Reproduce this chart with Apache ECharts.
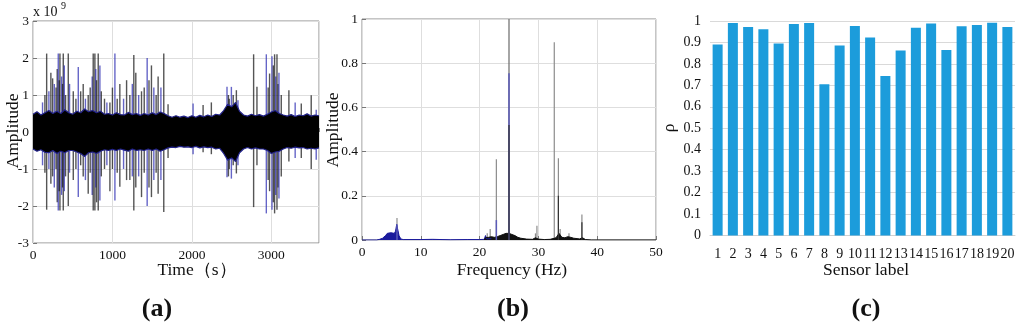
<!DOCTYPE html>
<html>
<head>
<meta charset="utf-8">
<script src="https://cdn.jsdelivr.net/npm/echarts@6/dist/echarts.min.js"></script>
<style>html,body{margin:0;padding:0;background:#fff}#c{width:1024px;height:326px}</style>
</head>
<body>
<div id="c"></div>
<script>
// ---------- Panel (a): time signal (units of 1e9) ----------
const bandTime = [0,50,100,150,200,250,300,350,400,450,500,550,600,650,700,750,800,850,900,950,1000,1050,1100,1150,1200,1250,1300,1350,1400,1450,1500,1550,1600,1650,1700,1750,1800,1850,1900,1950,2000,2050,2100,2150,2200,2250,2300,2350,2400,2450,2500,2550,2600,2650,2700,2750,2800,2850,2900,2950,3000,3050,3100,3150,3200,3250,3300,3350,3400,3450,3500,3550,3600];
const bandUpper = [0.48,0.55,0.46,0.52,0.58,0.5,0.56,0.5,0.6,0.52,0.48,0.56,0.52,0.62,0.55,0.58,0.52,0.56,0.48,0.5,0.46,0.52,0.47,0.46,0.53,0.47,0.5,0.45,0.5,0.46,0.52,0.47,0.54,0.5,0.44,0.4,0.44,0.4,0.43,0.39,0.44,0.4,0.45,0.41,0.46,0.42,0.48,0.46,0.58,0.75,0.68,0.8,0.56,0.46,0.43,0.48,0.44,0.47,0.43,0.48,0.54,0.58,0.5,0.46,0.43,0.47,0.42,0.46,0.44,0.49,0.43,0.46,0.44];
const bandLower = [-0.46,-0.52,-0.48,-0.55,-0.56,-0.5,-0.58,-0.52,-0.56,-0.5,-0.5,-0.54,-0.58,-0.66,-0.56,-0.54,-0.58,-0.52,-0.48,-0.5,-0.47,-0.5,-0.46,-0.49,-0.52,-0.46,-0.5,-0.48,-0.5,-0.46,-0.5,-0.46,-0.52,-0.48,-0.43,-0.41,-0.42,-0.39,-0.41,-0.4,-0.42,-0.39,-0.43,-0.4,-0.42,-0.41,-0.46,-0.44,-0.58,-0.76,-0.7,-0.8,-0.56,-0.46,-0.42,-0.46,-0.43,-0.46,-0.46,-0.5,-0.58,-0.54,-0.52,-0.46,-0.42,-0.44,-0.41,-0.43,-0.42,-0.46,-0.44,-0.46,-0.43];
const spikeTime = [120,150,172,200,225,247,268,290,305,318,330,339,360,372,381,394,410,444,460,507,540,570,600,632,660,695,720,745,758,779,790,800,821,842,860,900,930,968,1000,1031,1060,1093,1140,1178,1219,1250,1269,1294,1330,1366,1400,1437,1460,1491,1521,1550,1575,1610,1646,1700,2015,2141,2245,2442,2460,2470,2497,2520,2560,2580,2777,2819,2937,2960,2978,3008,3025,3041,3055,3071,3085,3096,3125,3221,3300,3377,3502,3565];
const spikeUp   = [0.8,1.0,2.12,1.1,1.6,1.45,1.3,1.2,1.7,2.12,1.4,2.12,1.5,1.3,2.12,1.8,1.0,2.12,1.3,1.1,0.9,1.76,1.1,1.3,0.9,1.0,1.2,1.5,2.12,2.12,1.7,1.4,2.12,1.8,1.1,0.9,0.8,0.8,1.2,2.12,0.9,1.3,0.9,1.4,1.0,1.3,2.08,1.6,1.0,1.1,1.2,2.0,1.4,1.8,1.2,1.0,1.5,1.2,2.12,0.75,0.77,0.73,0.8,1.22,1.0,0.9,1.22,1.0,1.13,0.86,2.1,1.22,2.1,1.2,1.58,2.05,1.8,2.1,1.5,2.1,1.3,1.6,1.0,1.13,0.8,0.77,0.99,0.6];
const spikeDown = [-0.9,-1.1,-2.1,-1.0,-1.4,-1.2,-1.5,-1.0,-1.9,-2.12,-1.6,-2.12,-1.7,-1.5,-2.12,-1.6,-1.2,-2.0,-1.1,-1.3,-1.0,-1.76,-0.9,-1.2,-1.3,-1.67,-1.1,-1.7,-2.12,-2.12,-1.5,-1.9,-2.12,-1.85,-1.2,-1.0,-0.9,-1.6,-1.0,-1.85,-1.1,-1.48,-1.0,-1.3,-1.3,-1.2,-2.12,-1.5,-1.2,-1.76,-1.1,-2.0,-1.5,-1.76,-1.3,-1.1,-1.67,-1.3,-2.16,-0.7,-0.6,-0.55,-0.6,-1.22,-1.2,-1.0,-1.26,-0.9,-1.12,-0.9,-2.03,-0.9,-2.2,-1.3,-1.6,-2.1,-1.9,-2.2,-1.7,-2.1,-1.5,-1.8,-1.2,-0.8,-0.7,-0.7,-1.0,-0.75];

// ---------- Panel (b): spectrum ----------
const lowFreq = [0,2.5,3,3.5,4,4.3,4.6,4.9,5.2,5.5,5.7,5.9,6.1,6.3,6.6,7,10,12,15,18,20,20.8,21,21.2,22];
const lowAmp  = [0,0,0.003,0.008,0.02,0.03,0.036,0.033,0.036,0.03,0.04,0.07,0.045,0.02,0.005,0.002,0.002,0.003,0.001,0.002,0.002,0.003,0.02,0.005,0.006];
const highFreq = [20.8,21,21.5,22,22.5,23,23.5,24,24.5,25,25.5,26,26.5,27,28,29,29.5,30,31,32,33,33.5,34,34.5,35,35.5,36,37,37.5,38,39,50];
const highAmp  = [0,0.01,0.012,0.015,0.012,0.015,0.02,0.025,0.03,0.03,0.025,0.02,0.012,0.008,0.004,0.003,0.01,0.004,0.002,0.003,0.01,0.03,0.012,0.01,0.015,0.012,0.008,0.005,0.01,0.002,0,0];
const peakFreq = [5.95,21.3,21.8,22.85,25.0,29.5,29.75,32.7,33.4,33.7,35.2,37.4];
const peakAmp  = [0.1,0.03,0.05,0.365,1.0,0.03,0.065,0.895,0.37,0.05,0.03,0.115];
const bluePeakFreq = [5.95,22.85,25.0];
const bluePeakAmp  = [0.07,0.09,0.755];
const darkPeakFreq = [25.0,33.4,37.4];
const darkPeakAmp  = [0.52,0.2,0.08];

// ---------- Panel (c): correlation per sensor ----------
const sensors = ['1','2','3','4','5','6','7','8','9','10','11','12','13','14','15','16','17','18','19','20'];
const rho = [0.89,0.991,0.972,0.961,0.895,0.986,0.991,0.705,0.886,0.977,0.923,0.744,0.863,0.969,0.988,0.865,0.975,0.981,0.992,0.972];

const FONT = 'Liberation Serif';
const chart = echarts.init(document.getElementById('c'), null, {renderer:'canvas'});

function vline(color, width) {
  return function (params, api) {
    const p1 = api.coord([api.value(0), api.value(1)]);
    const p2 = api.coord([api.value(0), api.value(2)]);
    return {type:'line', shape:{x1:p1[0],y1:p1[1],x2:p2[0],y2:p2[1]},
      style:{stroke: typeof color === 'function' ? color(params.dataIndex) : color, lineWidth: width}};
  };
}
const lbl = {fontFamily: FONT, fontSize: 13.5, color: '#111'};
const split = {show:true, lineStyle:{color:'#dedede', width:1}};
const tick = {show:true, inside:true, length:4, lineStyle:{color:'#777'}};
const title = {fontFamily:FONT, fontSize:17.5, fill:'#111', align:'center', verticalAlign:'middle'};
const panel = {fontFamily:FONT, fontSize:26, fontWeight:'bold', fill:'#111', align:'center', verticalAlign:'middle'};

chart.setOption({
  animation: false,
  grid: [
    {left:33, top:21, width:286, height:222, show:true, borderColor:'#8a8a8a', borderWidth:1, backgroundColor:'#fff'},
    {left:362, top:19, width:294, height:221, show:true, borderColor:'#8a8a8a', borderWidth:1, backgroundColor:'#fff'},
    {left:710, top:21, width:305, height:214.5}
  ],
  xAxis: [
    {gridIndex:0, type:'value', min:0, max:3600, interval:1000, splitLine:split, axisTick:tick,
     axisLine:{show:false}, axisLabel:Object.assign({margin:5, formatter:v => v===3600?'':String(v)}, lbl)},
    {gridIndex:1, type:'value', min:0, max:50, interval:10, splitLine:split, axisTick:tick,
     axisLine:{show:false}, axisLabel:Object.assign({margin:5}, lbl)},
    {gridIndex:2, type:'category', data:sensors, axisTick:{show:false},
     axisLine:{show:true, lineStyle:{color:'#d0d0d0'}}, axisLabel:Object.assign({margin:12, interval:0}, lbl, {fontSize:14})}
  ],
  yAxis: [
    {gridIndex:0, type:'value', min:-3, max:3, interval:1, splitLine:split, axisTick:tick,
     axisLine:{show:false}, axisLabel:Object.assign({margin:4}, lbl)},
    {gridIndex:1, type:'value', min:0, max:1, interval:0.2, splitLine:split, axisTick:tick,
     axisLine:{show:false}, axisLabel:Object.assign({margin:4}, lbl)},
    {gridIndex:2, type:'value', min:0, max:1, interval:0.1, splitLine:{show:true, lineStyle:{color:'#d9d9d9'}},
     axisTick:{show:false}, axisLine:{show:false}, axisLabel:Object.assign({margin:9}, lbl, {fontSize:14})}
  ],
  series: [
    {type:'custom', xAxisIndex:0, yAxisIndex:0, encode:{x:0, y:[1,2]},
     data: spikeTime.map((t,i)=>[t, spikeUp[i], spikeDown[i]]),
     renderItem: vline(i => (i%3===0 ? 'rgba(50,50,180,0.75)' : 'rgba(20,20,20,0.72)'), 1.4)},
    {type:'line', xAxisIndex:0, yAxisIndex:0, symbol:'none', z:3,
     data: bandTime.map((t,i)=>[t, bandUpper[i]]),
     lineStyle:{color:'#23238a', width:1.2}, areaStyle:{color:'#000', opacity:1}},
    {type:'line', xAxisIndex:0, yAxisIndex:0, symbol:'none', z:3,
     data: bandTime.map((t,i)=>[t, bandLower[i]]),
     lineStyle:{color:'#23238a', width:1.2}, areaStyle:{color:'#000', opacity:1}},

    {type:'line', xAxisIndex:1, yAxisIndex:1, symbol:'none',
     data: lowFreq.map((f,i)=>[f, lowAmp[i]]),
     lineStyle:{color:'#1a1a9c', width:1}, areaStyle:{color:'#1a1a9c', opacity:1}},
    {type:'line', xAxisIndex:1, yAxisIndex:1, symbol:'none',
     data: highFreq.map((f,i)=>[f, highAmp[i]]),
     lineStyle:{color:'#111', width:1}, areaStyle:{color:'#111', opacity:1}},
    {type:'custom', xAxisIndex:1, yAxisIndex:1, encode:{x:0, y:[1,2]},
     data: peakFreq.map((f,i)=>[f, peakAmp[i], 0]),
     renderItem: vline(i => (peakAmp[i] > 0.95 ? '#6a6a6a' : '#8c8c8c'), 1.2)},
    {type:'custom', xAxisIndex:1, yAxisIndex:1, encode:{x:0, y:[1,2]}, z:4,
     data: bluePeakFreq.map((f,i)=>[f, bluePeakAmp[i], 0]),
     renderItem: vline('#5a5ab8', 1.5)},
    {type:'custom', xAxisIndex:1, yAxisIndex:1, encode:{x:0, y:[1,2]}, z:5,
     data: darkPeakFreq.map((f,i)=>[f, darkPeakAmp[i], 0]),
     renderItem: vline('#333', 1.2)},

    {type:'bar', xAxisIndex:2, yAxisIndex:2, data: rho, barWidth:10,
     itemStyle:{color:'#1c9cdb'}}
  ],
  graphic: [
    {type:'text', x:33, y:12, style:{text:'x 10', fontFamily:FONT, fontSize:14, fill:'#111', align:'left', verticalAlign:'middle'}},
    {type:'text', x:61, y:6, style:{text:'9', fontFamily:FONT, fontSize:10, fill:'#111', align:'left', verticalAlign:'middle'}},
    {type:'text', x:13, y:131, rotation:Math.PI/2, style:Object.assign({text:'Amplitude'}, title)},
    {type:'text', x:333, y:130, rotation:Math.PI/2, style:Object.assign({text:'Amplitude'}, title)},
    {type:'text', x:669, y:128, rotation:Math.PI/2, style:Object.assign({text:'ρ'}, title)},
    {type:'text', x:197, y:270, style:Object.assign({text:'Time（s）'}, title)},
    {type:'text', x:512, y:270, style:Object.assign({text:'Frequency (Hz)'}, title)},
    {type:'text', x:866, y:270, style:Object.assign({text:'Sensor label'}, title)},
    {type:'text', x:157, y:309, style:Object.assign({text:'(a)'}, panel)},
    {type:'text', x:513, y:309, style:Object.assign({text:'(b)'}, panel)},
    {type:'text', x:866, y:309, style:Object.assign({text:'(c)'}, panel)}
  ]
});
</script>
</body>
</html>
